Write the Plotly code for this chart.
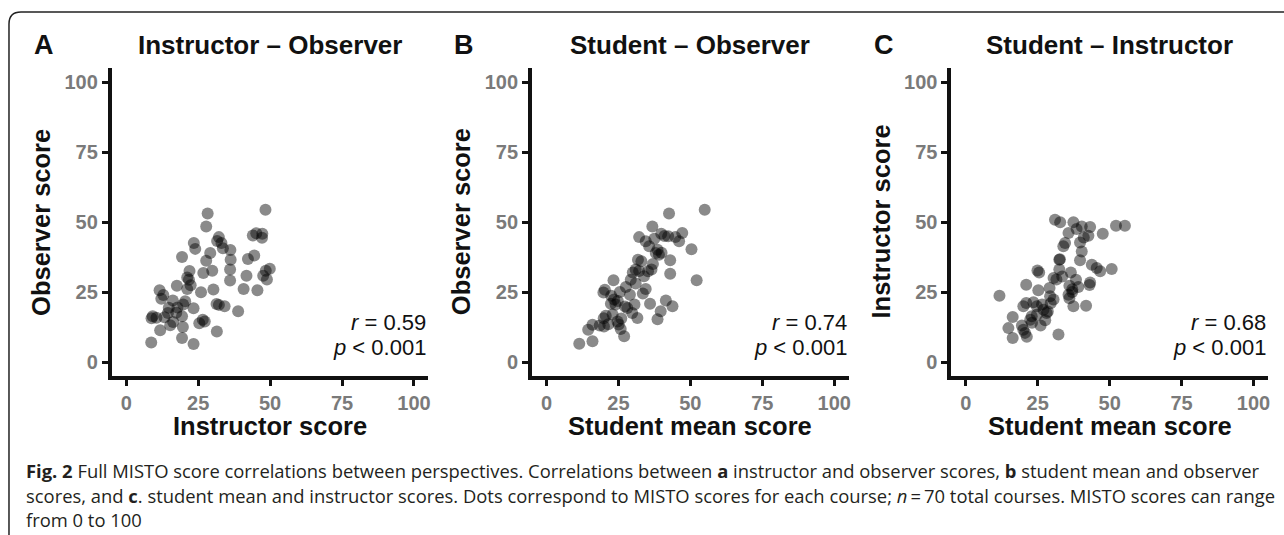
import plotly.graph_objects as go

W, H = 1284, 535

# ---------------- data ----------------
instructor_A = [48.4, 28.3, 27.8, 44.0, 45.2, 47.3, 47.2, 32.2, 31.6, 33.1,
                33.6, 23.5, 24.0, 19.4, 29.2, 27.8, 36.2, 36.3, 36.1, 36.1,
                44.5, 42.3, 49.9, 48.5, 47.6, 48.9, 41.8, 29.9, 26.8, 22.0,
                21.8, 21.2, 17.6, 21.2, 11.6, 26.0, 30.3, 40.8, 45.6, 12.2,
                16.2, 14.8, 20.5, 19.8, 23.4, 31.4, 34.2, 32.2, 38.9, 9.2,
                10.5, 8.8, 17.4, 19.4, 26.6, 25.4, 27.3, 15.3, 16.3, 19.7,
                11.8, 31.5, 8.7, 19.4, 23.4, 17.8, 14.5, 12.9, 22.4, 13.3]
observer_A = [54.4, 53.0, 48.4, 45.2, 46.0, 45.8, 44.4, 44.6, 43.2, 42.5,
              40.6, 42.5, 40.4, 37.5, 38.9, 36.2, 40.0, 36.5, 33.0, 29.1,
              38.0, 36.8, 33.3, 32.6, 30.8, 29.5, 30.8, 32.6, 31.8, 32.5,
              29.4, 30.2, 27.2, 26.1, 25.6, 24.9, 25.9, 26.1, 25.6, 22.6,
              22.0, 19.4, 21.7, 20.5, 19.2, 20.7, 19.9, 20.4, 18.1, 16.3,
              15.8, 15.6, 17.6, 16.3, 15.1, 13.8, 14.5, 13.1, 14.3, 12.5,
              11.3, 10.9, 7.0, 8.6, 6.4, 19.5, 17.5, 23.9, 27.4, 16.0]

student_B = [55.0, 42.6, 36.8, 32.2, 39.9, 42.3, 47.2, 46.1, 44.8, 34.5,
             35.7, 38.6, 39.1, 38.0, 40.0, 50.4, 43.0, 31.8, 31.0, 32.2,
             30.0, 35.3, 33.9, 36.5, 43.0, 52.2, 23.3, 29.3, 27.6, 31.0,
             34.5, 20.3, 19.8, 23.5, 22.4, 24.8, 28.1, 27.3, 36.0, 41.5,
             43.8, 39.7, 31.6, 20.6, 19.9, 38.6, 24.7, 25.1, 16.0, 14.5,
             20.0, 27.0, 11.4, 16.0, 22.5, 25.5, 29.8, 23.0, 21.5, 26.0,
             33.0, 37.5, 24.0, 29.0, 33.5, 30.6, 25.8, 18.5, 41.0, 37.0]
observer_B = [54.4, 53.0, 48.4, 44.6, 45.8, 44.9, 46.1, 43.1, 44.6, 43.1,
              41.3, 40.1, 38.3, 38.9, 39.0, 40.3, 36.3, 36.5, 33.0, 32.5,
              32.0, 32.4, 30.6, 33.0, 31.5, 29.2, 29.2, 29.4, 26.8, 28.0,
              26.1, 25.8, 24.8, 22.3, 20.8, 21.8, 19.3, 19.8, 20.8, 22.0,
              19.9, 18.1, 15.7, 16.5, 15.6, 15.3, 14.5, 13.4, 13.3, 11.5,
              12.7, 9.2, 6.5, 7.4, 23.7, 25.0, 17.5, 17.0, 13.5, 15.5,
              36.0, 44.0, 20.5, 24.0, 24.5, 20.5, 11.8, 13.0, 45.0, 35.0]

student_C = [31.0, 32.8, 37.4, 40.3, 43.2, 35.7, 38.5, 42.6, 41.0, 52.2,
             55.3, 47.6, 34.5, 33.9, 39.7, 40.3, 39.7, 32.5, 32.7, 43.8,
             45.5, 46.7, 50.7, 24.9, 25.5, 30.5, 32.5, 31.5, 36.5, 38.3,
             39.1, 36.0, 35.7, 36.0, 43.2, 43.0, 21.0, 29.1, 29.3, 30.5,
             29.5, 25.2, 11.7, 37.4, 41.8, 21.0, 20.0, 23.5, 24.7, 27.0,
             28.1, 24.7, 22.9, 22.4, 16.3, 27.6, 14.8, 20.0, 20.6, 32.2,
             16.3, 21.2, 26.0, 28.5, 37.0, 33.5, 23.0, 19.5, 26.5, 37.0]
instructor_C = [50.8, 49.9, 49.9, 48.4, 48.2, 46.1, 47.5, 45.1, 44.5, 48.7,
                48.7, 45.8, 42.5, 41.3, 42.7, 39.5, 36.3, 36.5, 36.7, 34.7,
                33.6, 32.4, 33.2, 32.7, 32.0, 30.0, 33.0, 29.5, 32.0, 29.4,
                26.8, 27.2, 24.0, 22.8, 28.4, 27.5, 27.6, 26.4, 23.5, 22.3,
                21.0, 25.6, 23.7, 19.9, 20.1, 21.1, 19.9, 21.3, 19.9, 18.7,
                17.5, 16.9, 16.3, 15.1, 16.1, 14.9, 12.1, 11.5, 10.4, 9.8,
                8.6, 9.0, 13.0, 18.0, 26.0, 30.5, 14.0, 13.0, 20.5, 25.0]

panel_letters = ["A", "B", "C"]
panel_titles = ["Instructor \u2013 Observer", "Student \u2013 Observer", "Student \u2013 Instructor"]
x_titles = ["Instructor score", "Student mean score", "Student mean score"]
y_titles = ["Observer score", "Observer score", "Instructor score"]
r_values = ["0.59", "0.74", "0.68"]
p_label = "0.001"
tick_values = [0, 25, 50, 75, 100]
tick_labels = ["0", "25", "50", "75", "100"]

caption_lines = [
    "<b>Fig. 2</b> Full MISTO score correlations between perspectives. Correlations between <b>a</b> instructor and observer scores, <b>b</b> student mean and observer",
    "scores, and <b>c</b>. student mean and instructor scores. Dots correspond to MISTO scores for each course; <i>n</i>\u2009=\u200970 total courses. MISTO scores can range",
    "from 0 to 100",
]

xs = [instructor_A, student_B, student_C]
ys = [observer_A, observer_B, instructor_C]

# ---------------- layout geometry (pixels) ----------------
FONT = "Liberation Sans, Arial, Helvetica, sans-serif"
CAP_FONT = "Open Sans, Noto Sans, sans-serif"
panel_left = [112.0, 532.9, 952.9]
panel_w = 317.0
top_px, bot_px = 68.0, 376.0


def fx(p):
    return p / W


def fy(p):
    return 1 - p / H


fig = go.Figure()
annotations = []
for i in range(3):
    ax = "" if i == 0 else str(i + 1)
    fig.add_trace(go.Scatter(
        x=xs[i], y=ys[i], mode="markers",
        xaxis="x" + ax, yaxis="y" + ax,
        marker=dict(size=12, color="rgba(0,0,0,0.46)", line=dict(width=0)),
        hoverinfo="skip", showlegend=False))
    L = panel_left[i]
    R = L + panel_w
    axis_common = dict(range=[-5, 105], tickvals=tick_values, ticktext=tick_labels,
                       showgrid=False, zeroline=False, showline=True,
                       linecolor="#111111", linewidth=4, ticks="outside",
                       ticklen=6, tickwidth=3, tickcolor="#111111",
                       tickfont=dict(family=FONT, size=20, color="#7a7a7a", weight="bold"))
    fig.update_layout(**{
        "xaxis" + ax: dict(domain=[fx(L), fx(R)], anchor="y" + ax, **axis_common),
        "yaxis" + ax: dict(domain=[fy(bot_px), fy(top_px)], anchor="x" + ax, **axis_common),
    })
    cx = (L + R) / 2
    # panel letter
    annotations.append(dict(x=fx(L - 80), y=fy(45), xref="paper", yref="paper",
                            text="<b>%s</b>" % panel_letters[i], showarrow=False,
                            xanchor="left", yanchor="middle",
                            font=dict(family=FONT, size=27, color="#111111")))
    # title
    annotations.append(dict(x=fx(cx), y=fy(45), xref="paper", yref="paper",
                            text="<b>%s</b>" % panel_titles[i], showarrow=False,
                            xanchor="center", yanchor="middle",
                            font=dict(family=FONT, size=26, color="#111111")))
    # x title
    annotations.append(dict(x=fx(cx), y=fy(426), xref="paper", yref="paper",
                            text="<b>%s</b>" % x_titles[i], showarrow=False,
                            xanchor="center", yanchor="middle",
                            font=dict(family=FONT, size=25.5, color="#111111")))
    # y title
    annotations.append(dict(x=fx(L - 71), y=fy((top_px + bot_px) / 2), xref="paper", yref="paper",
                            text="<b>%s</b>" % y_titles[i], showarrow=False, textangle=-90,
                            xanchor="center", yanchor="middle",
                            font=dict(family=FONT, size=25.5, color="#111111")))
    # r and p
    annotations.append(dict(x=fx(R), y=fy(322), xref="paper", yref="paper",
                            text="<i>r</i> = " + r_values[i], showarrow=False,
                            xanchor="right", yanchor="middle",
                            font=dict(family=FONT, size=22, color="#111111")))
    annotations.append(dict(x=fx(R), y=fy(347), xref="paper", yref="paper",
                            text="<i>p</i> &lt; " + p_label, showarrow=False,
                            xanchor="right", yanchor="middle",
                            font=dict(family=FONT, size=22, color="#111111")))

caption_y = [470, 495, 519]
for line, yy in zip(caption_lines, caption_y):
    annotations.append(dict(x=fx(24), y=fy(yy), xref="paper", yref="paper",
                            text=line, showarrow=False, xanchor="left", yanchor="middle",
                            font=dict(family=CAP_FONT, size=18.4, color="#231f20")))

# border: rounded top-left corner, top and left edges only
Lb, Tb, rr = 9, 12, 12
path = ("M {a},{b} L {c},{b} Q {d},{b} {d},{e} L {d},{f}").format(
    a=fx(W + 5), b=fy(Tb), c=fx(Lb + rr), d=fx(Lb), e=fy(Tb + rr), f=fy(H + 5))

fig.update_layout(
    width=W, height=H, margin=dict(l=0, r=0, t=0, b=0),
    paper_bgcolor="white", plot_bgcolor="white",
    annotations=annotations,
    shapes=[dict(type="path", xref="paper", yref="paper", path=path,
                 line=dict(color="#222222", width=1.5))],
)

fig.write_html("out.html")
